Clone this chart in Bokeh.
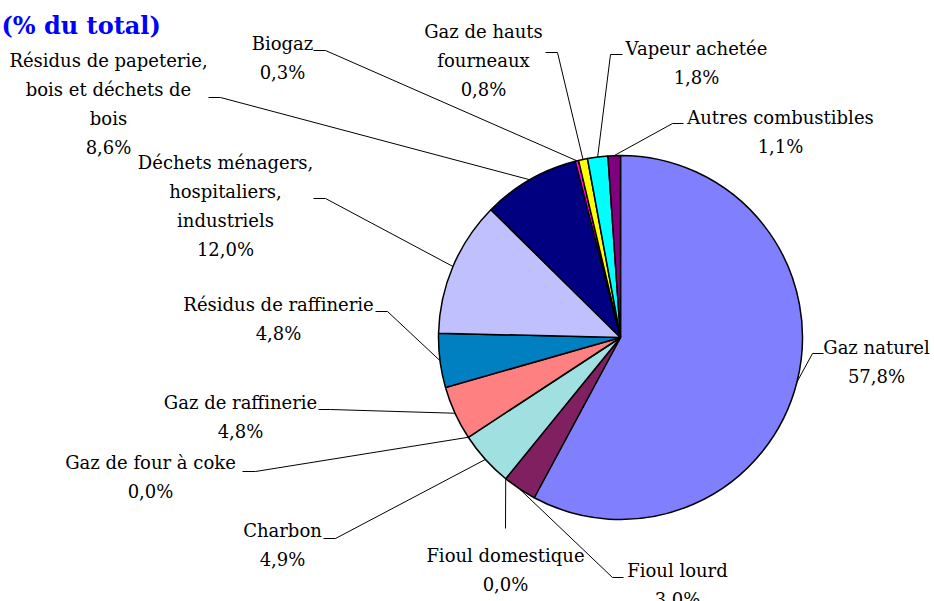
import math
from bokeh.plotting import figure
from bokeh.models import Range1d, ColumnDataSource
from bokeh.core.properties import value
from bokeh.embed import file_html
from bokeh.resources import INLINE

# ---------------- data ----------------
categories = [
    "Gaz naturel",
    "Fioul lourd",
    "Fioul domestique",
    "Charbon",
    "Gaz de four à coke",
    "Gaz de raffinerie",
    "Résidus de raffinerie",
    "Déchets ménagers,\nhospitaliers,\nindustriels",
    "Résidus de papeterie,\nbois et déchets de\nbois",
    "Biogaz",
    "Gaz de hauts\nfourneaux",
    "Vapeur achetée",
    "Autres combustibles",
]
values = [57.8, 3.0, 0.0, 4.9, 0.0, 4.8, 4.8, 12.0, 8.6, 0.3, 0.8, 1.8, 1.1]
colors = ["#8080FF", "#802060", "#FFFFC0", "#A0E0E0", "#600080", "#FF8080",
          "#0080C0", "#C0C0FF", "#000080", "#FF00FF", "#FFFF00", "#00FFFF", "#800080"]
title_text = "(% du total)"

# ---------------- layout (image pixel coordinates) ----------------
W, H = 934, 601
def Y(y_img):
    return H - y_img

FONT = value("DejaVu Serif")
CX, CY_IMG, R = 620, 337, 182
LINE_SP = 29
# per label: text centre x, first baseline y, elbow x, elbow y, stub end x
label_layout = [
    (876, 347, 812, 353, 823),
    (677, 570, 612, 577, 623),
    (505, 555, 505, 528, 505),
    (282, 530, 335, 538, 323),
    (150, 462, 255, 471, 242),
    (240, 402, 330, 409, 318),
    (278, 304, 387, 311, 375),
    (225, 162, 325, 198, 313),
    (108, 60, 220, 97, 208),
    (282, 43, 325, 50, 313),
    (483, 31, 557, 52, 545),
    (696, 48, 610, 54, 622),
    (780, 117, 672, 123, 683),
]

p = figure(width=W, height=H, output_backend="svg", toolbar_location=None,
           x_range=Range1d(0, W), y_range=Range1d(0, H), min_border=0)
p.axis.visible = False
p.grid.visible = False
p.outline_line_color = None
p.background_fill_color = "white"
p.border_fill_color = "white"

total = sum(values)
cy = Y(CY_IMG)

# wedges (clockwise from 12 o'clock)
starts, ends, cols = [], [], []
mids = []
cum = 0.0
for v, c in zip(values, colors):
    a0 = math.pi / 2 - 2 * math.pi * cum / total
    a1 = math.pi / 2 - 2 * math.pi * (cum + v) / total
    mids.append(math.pi / 2 - 2 * math.pi * (cum + v / 2) / total)
    if v > 0:
        starts.append(a1)
        ends.append(a0)
        cols.append(c)
    cum += v

wsrc = ColumnDataSource(dict(start=starts, end=ends, color=cols))
p.wedge(x=CX, y=cy, radius=R, start_angle="start", end_angle="end",
        direction="anticlock", fill_color="color", line_color="black",
        line_width=1.5, source=wsrc)

# leader lines
xs, ys = [], []
for m, (tx, ty, ex, ey, sx) in zip(mids, label_layout):
    px = CX + R * math.cos(m)
    py = cy + R * math.sin(m)
    xs.append([px, ex, sx])
    ys.append([py, Y(ey), Y(ey)])
p.multi_line(xs=xs, ys=ys, line_color="black", line_width=1)

# labels
lx, ly, lt = [], [], []
for name, v, (tx, ty, ex, ey, sx) in zip(categories, values, label_layout):
    lines = name.split("\n") + [f"{v:.1f}".replace(".", ",") + "%"]
    for i, t in enumerate(lines):
        lx.append(tx)
        ly.append(Y(ty + i * LINE_SP))
        lt.append(t)
p.text(x=lx, y=ly, text=lt, text_align="center", text_baseline="alphabetic",
       text_font=FONT, text_font_size="18px", text_color="black")

# title
p.text(x=[1], y=[Y(25)], text=[title_text], text_align="left",
       text_baseline="alphabetic", text_font=FONT,
       text_font_size="24px", text_font_style="bold", text_color="#0000FF")

open("out.html", "w").write(file_html(p, INLINE))
